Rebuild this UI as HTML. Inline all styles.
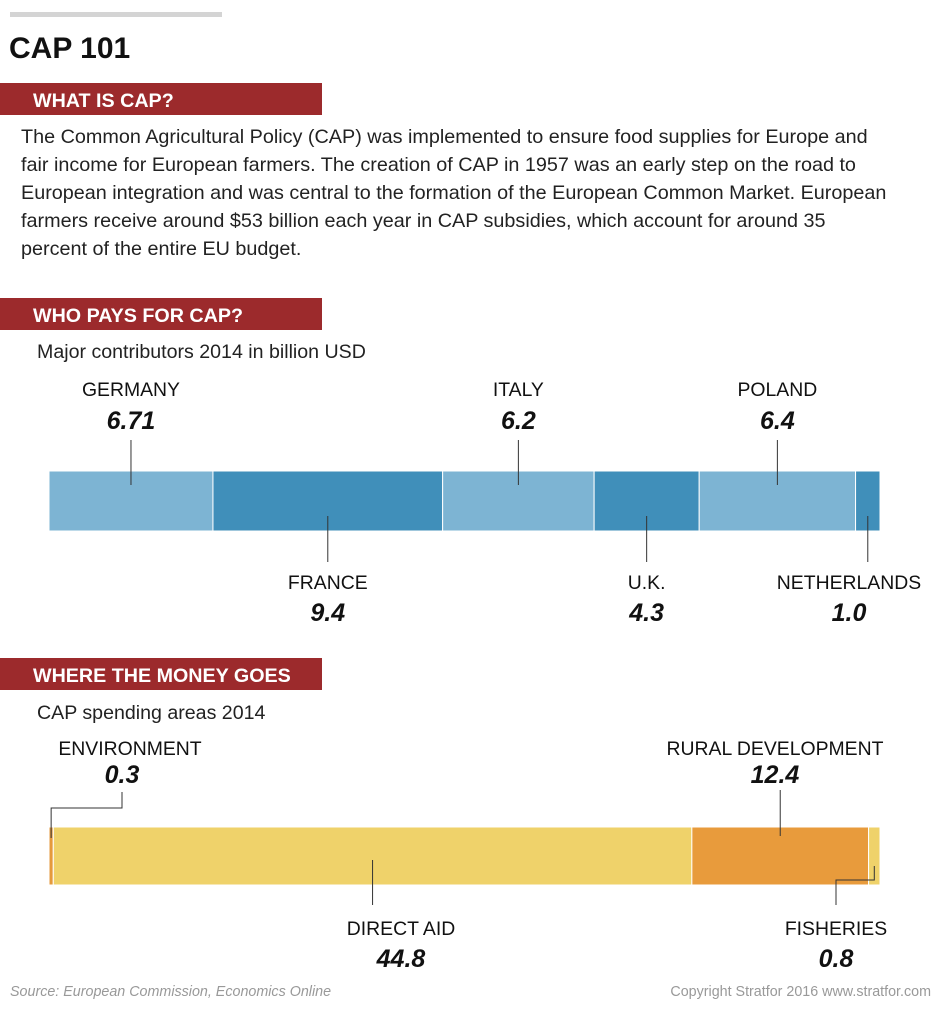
<!DOCTYPE html>
<html><head><meta charset="utf-8"><style>
body{margin:0;background:#fff;width:940px;height:1013px;overflow:hidden;font-family:"Liberation Sans",Arial,sans-serif}
svg text{font-family:"Liberation Sans",Arial,sans-serif}
</style></head><body>
<svg id="s" width="940" height="1013" xmlns="http://www.w3.org/2000/svg">
<rect x="10" y="12" width="212" height="5" fill="#d4d4d4"/>
<text x="9" y="58" font-size="30" font-weight="bold" fill="#111">CAP 101</text>
<rect x="0" y="83" width="322" height="32" fill="#9c2a2c"/>
<text x="33" y="107" font-size="19.7" font-weight="bold" fill="#fff">WHAT IS CAP?</text>
<g font-size="19.8" fill="#222">
<text x="21" y="143">The Common Agricultural Policy (CAP) was implemented to ensure food supplies for Europe and</text>
<text x="21" y="171">fair income for European farmers. The creation of CAP in 1957 was an early step on the road to</text>
<text x="21" y="199">European integration and was central to the formation of the European Common Market. European</text>
<text x="21" y="227">farmers receive around $53 billion each year in CAP subsidies, which account for around 35</text>
<text x="21" y="255">percent of the entire EU budget.</text>
</g>
<rect x="0" y="298" width="322" height="32" fill="#9c2a2c"/>
<text x="33" y="322" font-size="19.7" font-weight="bold" fill="#fff">WHO PAYS FOR CAP?</text>
<text x="37" y="358" font-size="19.6" fill="#222">Major contributors 2014 in billion USD</text>
<rect x="0" y="658" width="322" height="32" fill="#9c2a2c"/>
<text x="33" y="682" font-size="19.7" font-weight="bold" fill="#fff">WHERE THE MONEY GOES</text>
<text x="37" y="719" font-size="19.6" fill="#222">CAP spending areas 2014</text>
<text x="10" y="996" font-size="14.3" font-style="italic" fill="#999">Source: European Commission, Economics Online</text>
<text x="931" y="996" font-size="14.3" fill="#999" text-anchor="end">Copyright Stratfor 2016   www.stratfor.com</text>
<g id="g1"></g><g id="g2"></g>
</svg>
<script>
const countries=["GERMANY","FRANCE","ITALY","U.K.","POLAND","NETHERLANDS"];
const contributions=[6.71,9.4,6.2,4.3,6.4,1.0];
const contribLabels=["6.71","9.4","6.2","4.3","6.4","1.0"];
const areas=["ENVIRONMENT","DIRECT AID","RURAL DEVELOPMENT","FISHERIES"];
const spending=[0.3,44.8,12.4,0.8];
const spendLabels=["0.3","44.8","12.4","0.8"];
const NS="http://www.w3.org/2000/svg";
function mk(p,t,a){const e=document.createElementNS(NS,t);for(const k in a)e.setAttribute(k,a[k]);p.appendChild(e);return e;}
function txt(p,x,y,s,size,opt){const e=mk(p,"text",{x:x,y:y,"font-size":size,fill:"#111","text-anchor":opt.anchor||"middle"});if(opt.b){e.setAttribute("font-weight","bold");e.setAttribute("font-style","italic");}e.textContent=s;return e;}
const X0=49,X1=880;
function scale(vals){const tot=vals.reduce((a,b)=>a+b,0);return v=>v/tot*(X1-X0);}
(function(){const g=document.getElementById("g1");const sc=scale(contributions);let x=X0;const y0=471,h=60;
contributions.forEach((v,i)=>{const w=sc(v);
const r=mk(g,"rect",{x:x,y:y0,width:w,height:h,fill:i%2?"#408fba":"#7db4d3",stroke:"#fff","stroke-width":1});


const mid=x+w/2;const up=i%2===0;
const l=mk(g,"line",{x1:mid,x2:mid,y1:up?440:516,y2:up?485:562,stroke:"#333","stroke-width":1});


let lx=Math.min(mid,849);
const ny=up?396:589,vy=up?429:621;
const t1=txt(g,lx,ny,countries[i],19.4,{});


const t2=txt(g,lx,vy,contribLabels[i],25,{b:1});


x+=w;});})();
(function(){const g=document.getElementById("g2");const sc=scale(spending);let x=X0;const y0=827,h=58;
const cols=["#e59a3c","#efd26a","#e89b3c","#efd26a"];
const pos=[{up:1,lx:130,px:122},{up:0,lx:401},{up:1,lx:775},{up:0,lx:836}];
spending.forEach((v,i)=>{const w=sc(v);
const r=mk(g,"rect",{x:x,y:y0,width:w,height:h,fill:cols[i],stroke:"#fff","stroke-width":1});


const mid=x+w/2;const p=pos[i];let d;
if(i===0)d=`M${p.px} 792 V808 H${mid} V838`;
else if(i===1)d=`M${mid} 860 V905`;
else if(i===2)d=`M${mid} 790 V836`;
else d=`M${mid} 866 V880 H${p.lx} V905`;
const l=mk(g,"path",{d:d,fill:"none",stroke:"#333","stroke-width":1});


const ny=p.up?755:935,vy=p.up?783:967;
const t1=txt(g,p.lx,ny,areas[i],19.4,{});


const t2=txt(g,p.px||p.lx,vy,spendLabels[i],25,{b:1});


x+=w;});})();
</script>
</body></html>
